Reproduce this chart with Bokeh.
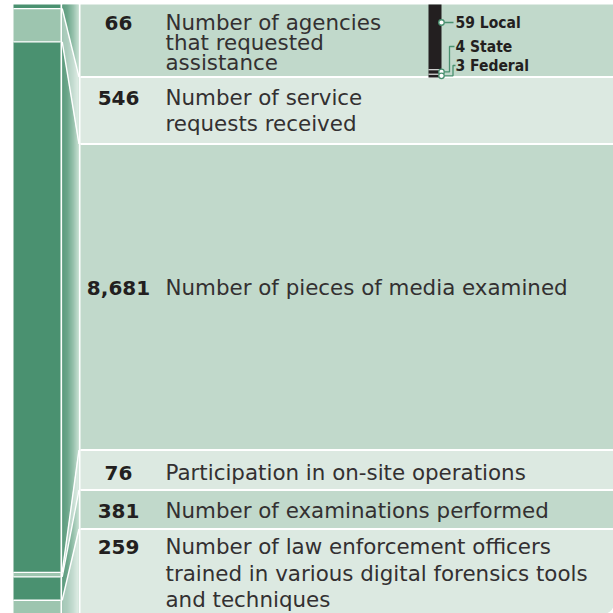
import numpy as np
from bokeh.plotting import figure
from bokeh.models import Range1d
from bokeh.embed import file_html
from bokeh.resources import INLINE
from bokeh.core.properties import value

# ---------------- data ----------------
values = [66, 546, 8681, 76, 381, 259]
value_labels = ["66", "546", "8,681", "76", "381", "259"]
descriptions = [
    ["Number of agencies", "that requested", "assistance"],
    ["Number of service", "requests received"],
    ["Number of pieces of media examined"],
    ["Participation in on-site operations"],
    ["Number of examinations performed"],
    ["Number of law enforcement officers",
     "trained in various digital forensics tools",
     "and techniques"],
]
agency_types = ["Local", "State", "Federal"]
agency_counts = [59, 4, 3]

# ---------------- layout (pixel space) ----------------
W = 613
TOP = 4.0
BOTTOM = 613.0
ROW_EDGES = [4.0, 76.5, 143.5, 449.5, 489.5, 528.5, 613.0]
FIRST_LINE = [22, 97, 287, 472, 510, 546]
LINE_GAP = [20, 26, 0, 0, 0, 26.5]
PX_PER_UNIT = 0.0611       # stacked bar scale
AG_PX_PER_UNIT = 1.106     # agency bar scale

DARK = "#4a9170"
LIGHT_SEG = "#9dc5af"
ROW_MED = "#c1d9cb"
ROW_LIGHT = "#dce9e1"
INK = "#231f20"
LABEL_INK = "#333031"

p = figure(width=W, height=W,
           x_range=Range1d(0, W), y_range=Range1d(W, 0),
           x_axis_type=None, y_axis_type=None,
           output_backend="svg", toolbar_location=None, min_border=0)
p.grid.visible = False
p.outline_line_color = None
p.background_fill_color = "white"
p.border_fill_color = "white"

p.extra_y_ranges = {
    "count": Range1d((W - TOP) / PX_PER_UNIT, -TOP / PX_PER_UNIT),
    "agency": Range1d((W - TOP) / AG_PX_PER_UNIT, -TOP / AG_PX_PER_UNIT),
}

vals = np.array(values, dtype=float)
cum = np.concatenate([[0], np.cumsum(vals)])
edge_c = (np.array(ROW_EDGES) - TOP) / PX_PER_UNIT
seg_cols = [DARK if i % 2 == 0 else LIGHT_SEG for i in range(len(values))]

# stacked bar
p.quad(left=13, right=60, top=cum[:-1], bottom=cum[1:], y_range_name="count",
       fill_color=seg_cols, line_color=None)
p.segment(x0=13, x1=60, y0=cum[1:-1], y1=cum[1:-1], y_range_name="count",
          line_color="white", line_width=1.3)

# gradient strip
n = 17
xs = np.linspace(61.7, 78.0, n + 1)
c0 = np.array([0x4a, 0x91, 0x70]); c1 = np.array([0xbb, 0xd8, 0xc8])
grad = ["#%02x%02x%02x" % tuple((c0 + (c1 - c0) * (i / (n - 1))).astype(int)) for i in range(n)]
p.quad(left=xs[:-1], right=xs[1:] + 0.3, top=TOP, bottom=BOTTOM,
       fill_color=grad, line_color=None)

# light overlays for alternate connectors
ov_x, ov_y = [], []
for i in range(1, len(values), 2):
    ov_x.append([61.7, 78.0, 78.0, 61.7])
    ov_y.append([cum[i], edge_c[i], edge_c[i + 1], cum[i + 1]])
p.patches(xs=ov_x, ys=ov_y, y_range_name="count", fill_color="white",
          fill_alpha=0.45, line_color=None)

# connector lines
p.segment(x0=61.7, x1=78.5, y0=cum[1:-1], y1=edge_c[1:-1], y_range_name="count",
          line_color="white", line_width=1.4)

# rows
row_cols = [ROW_MED if i % 2 == 0 else ROW_LIGHT for i in range(len(values))]
p.quad(left=80, right=W, top=ROW_EDGES[:-2], bottom=ROW_EDGES[1:-1],
       fill_color=row_cols[:-1], line_color=None)
p.quad(left=80, right=W, top=ROW_EDGES[-2], bottom=ROW_EDGES[-1],
       fill_color=row_cols[-1], line_color=None, border_radius=(0, 0, 9, 0))
p.segment(x0=80, x1=W, y0=ROW_EDGES[1:-1], y1=ROW_EDGES[1:-1],
          line_color="white", line_width=2)

# numbers
p.text(x=118, y=FIRST_LINE, text=value_labels, text_align="center",
       text_baseline="middle", text_font=value("DejaVu Sans"),
       text_font_style="bold", text_font_size="20px", text_color=INK)

# labels
lx, ly, lt = [], [], []
for i, lines in enumerate(descriptions):
    for k, line in enumerate(lines):
        lx.append(165); ly.append(FIRST_LINE[i] + k * LINE_GAP[i]); lt.append(line)
p.text(x=lx, y=ly, text=lt, text_align="left", text_baseline="middle",
       text_font=value("DejaVu Sans"), text_font_size="21.4px", text_color=LABEL_INK)

# agency mini bar
ag = np.array(agency_counts, dtype=float)
ag_cum = np.concatenate([[0], np.cumsum(ag)])
p.quad(left=428, right=441, top=ag_cum[:-1], bottom=ag_cum[1:], y_range_name="agency",
       fill_color=INK, line_color=None)
p.segment(x0=428, x1=441, y0=ag_cum[1:-1], y1=ag_cum[1:-1], y_range_name="agency",
          line_color="white", line_width=1)

ag_text_y = [22, 46, 65]
ag_text_u = [(y - TOP) / AG_PX_PER_UNIT for y in ag_text_y]
ag_mid = (ag_cum[:-1] + ag_cum[1:]) / 2
GREEN = "#4a9170"
p.multi_line(xs=[[441, 453], [441, 449, 449, 454], [441, 452.5, 452.5, 455]],
             ys=[[ag_text_u[0], ag_text_u[0]],
                 [ag_mid[1], ag_mid[1], ag_text_u[1], ag_text_u[1]],
                 [ag_mid[2], ag_mid[2], ag_text_u[2], ag_text_u[2]]],
             y_range_name="agency", line_color=GREEN, line_width=1.3)
p.scatter(x=[441, 441, 441], y=[ag_text_u[0], ag_mid[1], ag_mid[2]], y_range_name="agency",
          size=5.5, fill_color="white", line_color=GREEN, line_width=1.3)
p.text(x=455, y=ag_text_y,
       text=[f"{c} {t}" for c, t in zip(agency_counts, agency_types)],
       text_align="left", text_baseline="middle",
       text_font=value("'DejaVu Sans Condensed', Roboto"), text_font_style="bold",
       text_font_size="15.5px", text_color=INK)

open("out.html", "w").write(file_html(p, INLINE))
